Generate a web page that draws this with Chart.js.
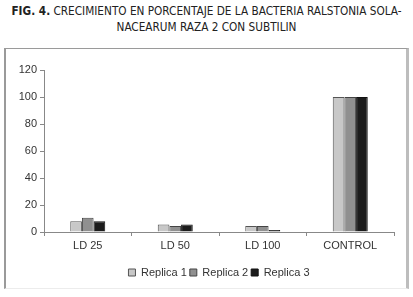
<!DOCTYPE html>
<html>
<head>
<meta charset="utf-8">
<script src="https://cdn.jsdelivr.net/npm/chart.js@4/dist/chart.umd.min.js"></script>
<style>
  html, body { margin: 0; padding: 0; background: #fff; }
  body { width: 413px; height: 297px; position: relative; overflow: hidden; }
  #title {
    position: absolute; left: 0; top: 3px; width: 413px; text-align: center;
    font-family: "Liberation Sans Narrow", "DejaVu Sans Condensed", "Liberation Sans", sans-serif;
    font-size: 11.7px; line-height: 16px; color: #222;
  }
  #title b { font-weight: bold; }
  #frame {
    position: absolute; left: 4px; top: 48px; width: 400px; height: 239px;
    border-left: 2px solid #9a9a9a; border-top: 1px solid #9a9a9a;
    border-right: 3px solid #bdbdbd; border-bottom: 1px solid #ececec;
  }
  #wrap { position: absolute; left: 0; top: 0; width: 413px; height: 297px; }
</style>
</head>
<body>
<div id="title"><b>FIG. 4.</b> CRECIMIENTO EN PORCENTAJE DE LA BACTERIA RALSTONIA SOLA-<br>NACEARUM RAZA 2 CON SUBTILIN</div>
<div id="frame"></div>
<div id="wrap"><canvas id="c" width="413" height="297"></canvas></div>
<script>
const categories = ["LD 25", "LD 50", "LD 100", "CONTROL"];
const replica1 = [8, 5.5, 4.5, 100];
const replica2 = [10.5, 4.5, 4.5, 100];
const replica3 = [8, 5.5, 1.5, 100];
const seriesNames = ["Replica 1", "Replica 2", "Replica 3"];
const yTicks = [0, 20, 40, 60, 80, 100, 120];

const font = { family: "'Liberation Sans', Arial, sans-serif", size: 11 };

const placeLegend = {
  id: 'placeLegend',
  afterLayout(chart) {
    const l = chart.legend;
    if (!l) return;
    const h = l.bottom - l.top;
    l.left += 22; l.right += 22;
    l.top = 264; l.bottom = l.top + h;
  }
};

new Chart(document.getElementById('c'), {
  type: 'bar',
  data: {
    labels: categories,
    datasets: [
      { label: seriesNames[0], data: replica1, backgroundColor: '#c8c8c8', borderColor: '#555', borderWidth: 1 },
      { label: seriesNames[1], data: replica2, backgroundColor: '#909090', borderColor: '#444', borderWidth: 1 },
      { label: seriesNames[2], data: replica3, backgroundColor: '#1c1c1c', borderColor: '#111', borderWidth: 1 }
    ]
  },
  plugins: [placeLegend],
  options: {
    responsive: false,
    animation: false,
    devicePixelRatio: 1,
    datasets: { bar: { categoryPercentage: 0.4, barPercentage: 1.0 } },
    layout: { padding: { left: 0, top: 70, right: 19, bottom: 12 } },
    plugins: {
      legend: {
        position: 'bottom',
        labels: { boxWidth: 7, boxHeight: 7, padding: 3, color: '#333', font: font }
      },
      tooltip: { enabled: false }
    },
    scales: {
      x: {
        grid: { display: true, drawOnChartArea: false, drawTicks: true, tickLength: 4, color: '#888', offset: true },
        border: { display: true, color: '#888', width: 1 },
        ticks: { color: '#333', font: font, padding: 3, maxRotation: 0 },
        afterFit: s => { s.height = 29; }
      },
      y: {
        min: 0, max: 120,
        afterBuildTicks: s => { s.ticks = yTicks.map(v => ({ value: v })); },
        grid: { display: true, drawOnChartArea: false, drawTicks: true, tickLength: 4, color: '#888' },
        border: { display: true, color: '#888', width: 1 },
        ticks: { color: '#333', font: font, padding: 3 },
        afterFit: s => { s.width = 44; }
      }
    }
  }
});
</script>
</body>
</html>
